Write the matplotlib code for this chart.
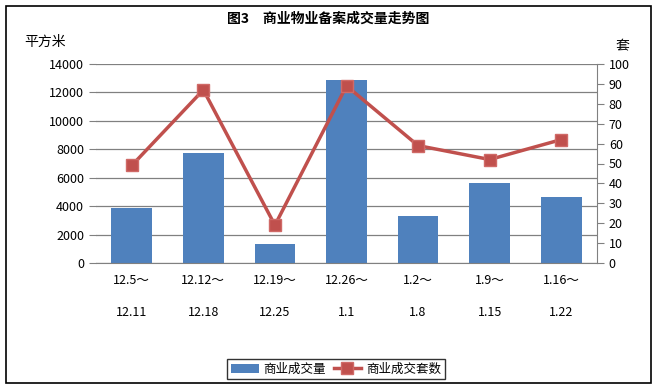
import matplotlib
matplotlib.use("Agg")
import matplotlib.pyplot as plt
from matplotlib.patches import Rectangle
import numpy as np

plt.rcParams['font.family'] = ['Noto Sans CJK SC', 'DejaVu Sans']

categories = ["12.5～\n\n12.11", "12.12～\n\n12.18", "12.19～\n\n12.25", "12.26～\n\n1.1",
              "1.2～\n\n1.8", "1.9～\n\n1.15", "1.16～\n\n1.22"]
area = [3870, 7750, 1340, 12870, 3300, 5630, 4640]
units = [49, 87, 19, 89, 59, 52, 62]
left_ticks = [0, 2000, 4000, 6000, 8000, 10000, 12000, 14000]
right_ticks = [0, 10, 20, 30, 40, 50, 60, 70, 80, 90, 100]

W, H = 656, 387
fig = plt.figure(figsize=(W / 100, H / 100), dpi=100)
fig.patch.set_facecolor('white')
fig.add_artist(Rectangle((6 / W, 1 - 383 / H), 645 / W, 377 / H, transform=fig.transFigure,
                         fill=False, edgecolor='black', linewidth=1.2))

ax = fig.add_axes([96 / W, 1 - 263 / H, 501 / W, 199 / H])
x = np.arange(len(categories))
bars = ax.bar(x, area, width=0.57, color='#4F81BD', zorder=2, label='商业成交量')
ax.set_ylim(0, 14000)
ax.set_xlim(-0.5, len(categories) - 0.5)
ax.set_yticks(left_ticks)
ax.set_xticks(x)
ax.set_xticklabels(categories, fontsize=9, linespacing=1.3)
ax.tick_params(axis='x', length=0, pad=8)
ax.tick_params(axis='y', labelsize=9, length=5, color='#808080', direction='out')
ax.grid(axis='y', color='#808080', linewidth=0.9, zorder=0)
ax.set_axisbelow(True)
for s in ['top', 'left', 'right']:
    ax.spines[s].set_visible(False)
ax.spines['bottom'].set_color('#808080')

ax2 = ax.twinx()
line, = ax2.plot(x, units, color='#C0504D', linewidth=2.5, marker='s', markersize=8,
                 markerfacecolor='#C0504D', markeredgecolor='#D06A67', zorder=3, label='商业成交套数')
ax2.set_ylim(0, 100)
ax2.set_yticks(right_ticks)
ax2.tick_params(axis='y', labelsize=9, length=5, color='#808080', direction='out')
for s in ['top', 'left', 'bottom']:
    ax2.spines[s].set_visible(False)
ax2.spines['right'].set_color('#808080')

fig.text(328 / W, 1 - 19 / H, '图3　商业物业备案成交量走势图', ha='center', va='center',
         fontsize=10, fontweight='bold')
fig.text(45 / W, 1 - 42 / H, '平方米', ha='center', va='center', fontsize=10)
fig.text(622 / W, 1 - 46 / H, '套', ha='center', va='center', fontsize=10)

leg = fig.legend(handles=[bars, line], loc='center', bbox_to_anchor=(336 / W, 1 - 369 / H),
                 ncol=2, fontsize=9, frameon=True, fancybox=False, edgecolor='black',
                 handlelength=2.2, columnspacing=0.6, handletextpad=0.4, borderpad=0.3)
leg.get_frame().set_linewidth(1.0)

fig.savefig('out.png', dpi=100, facecolor='white')
